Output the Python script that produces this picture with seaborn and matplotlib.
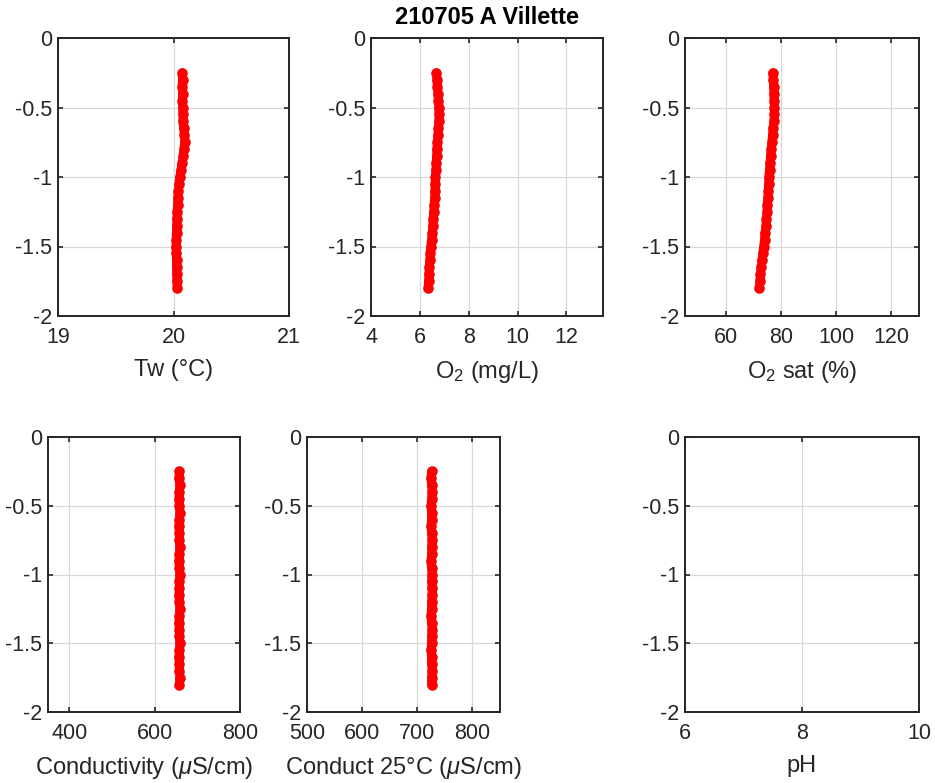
import matplotlib
matplotlib.use("Agg")
import matplotlib.pyplot as plt
import seaborn as sns
import pandas as pd

# depth profile values (m)
depth = [-0.25, -0.30, -0.35, -0.40, -0.45, -0.50, -0.55, -0.60, -0.65, -0.70, -0.75,
         -0.80, -0.85, -0.90, -0.95, -1.00, -1.05, -1.10, -1.15, -1.20, -1.25, -1.30,
         -1.35, -1.40, -1.45, -1.50, -1.55, -1.60, -1.65, -1.70, -1.75, -1.80]

tw = [20.076, 20.078, 20.075, 20.080, 20.077, 20.080, 20.082, 20.083, 20.088, 20.095, 20.098,
      20.090, 20.085, 20.075, 20.065, 20.055, 20.048, 20.042, 20.038, 20.035, 20.032, 20.030,
      20.028, 20.026, 20.024, 20.023, 20.025, 20.026, 20.027, 20.028, 20.030, 20.033]

o2 = [6.68, 6.70, 6.72, 6.74, 6.76, 6.78, 6.79, 6.78, 6.76, 6.74, 6.72,
      6.70, 6.69, 6.67, 6.66, 6.64, 6.63, 6.62, 6.61, 6.59, 6.57, 6.55,
      6.53, 6.51, 6.48, 6.45, 6.43, 6.41, 6.39, 6.37, 6.36, 6.34]

o2_sat = [76.9, 77.1, 77.2, 77.3, 77.4, 77.5, 77.5, 77.3, 77.0, 76.8, 76.6,
          76.3, 76.1, 75.9, 75.7, 75.5, 75.4, 75.3, 75.1, 74.9, 74.8, 74.6,
          74.4, 74.1, 73.9, 73.6, 73.3, 73.0, 72.7, 72.4, 72.2, 72.0]

cond = [658, 657, 659, 658, 657, 658, 659, 658, 657, 658, 658,
        659, 658, 657, 658, 659, 658, 658, 657, 658, 659, 658,
        657, 658, 658, 659, 658, 657, 658, 658, 659, 658]

cond25 = [726, 725, 726, 727, 726, 725, 726, 726, 725, 726, 727,
          726, 726, 725, 726, 727, 726, 727, 727, 726, 726, 725,
          726, 727, 726, 726, 725, 726, 726, 727, 726, 726]

ph = []  # no pH data in this profile

title = "210705 A Villette"

sns.set_style("ticks")
plt.rcParams['font.family'] = ['Liberation Sans', 'DejaVu Sans']
plt.rcParams['mathtext.fontset'] = 'custom'
plt.rcParams['mathtext.rm'] = 'Liberation Sans'
plt.rcParams['mathtext.it'] = 'Liberation Sans:italic'
plt.rcParams['axes.unicode_minus'] = False

DARK = '#262626'
RED = '#ff0000'

fig = plt.figure(figsize=(9.35, 7.83), dpi=100)

W, H = 935, 783

def panel(px0, px1, py0, py1):
    return fig.add_axes([px0 / W, 1 - py1 / H, (px1 - px0) / W, (py1 - py0) / H])

panels = [
    # values, pixel box, xlim, xticks, label
    (tw, (58, 289, 38, 316), (19, 21), [19, 20, 21], 'Tw (°C)'),
    (o2, (371, 603, 38, 316), (4, 13.5), [4, 6, 8, 10, 12], 'O$_2$ (mg/L)'),
    (o2_sat, (685, 919, 38, 316), (45, 130), [60, 80, 100, 120], 'O$_2$ sat (%)'),
    (cond, (48, 240, 437, 712), (350, 800), [400, 600, 800], r'Conductivity ($\mu$S/cm)'),
    (cond25, (307, 500, 437, 712), (500, 850), [500, 600, 700, 800], r'Conduct 25°C ($\mu$S/cm)'),
    (ph, (685, 919, 437, 712), (6, 10), [6, 8, 10], 'pH'),
]

for vals, box, xlim, xticks, label in panels:
    ax = panel(*box)
    if len(vals):
        df = pd.DataFrame({'x': vals, 'depth': depth})
        sns.lineplot(data=df, x='x', y='depth', ax=ax, color=RED, sort=False,
                     linewidth=6.5, solid_capstyle='round', estimator=None, zorder=3)
        sns.scatterplot(data=df, x='x', y='depth', ax=ax, color=RED,
                        s=58, linewidth=0, legend=False, zorder=4)
    ax.set_xlim(*xlim)
    ax.set_ylim(-2, 0)
    ax.set_xticks(xticks)
    ax.set_xticklabels([str(t) for t in xticks])
    ax.set_yticks([0, -0.5, -1, -1.5, -2])
    ax.set_yticklabels(['0', '-0.5', '-1', '-1.5', '-2'])
    ax.grid(True, color='#d8d8d8', linewidth=0.9)
    ax.set_axisbelow(True)
    ax.tick_params(direction='in', length=3.5, width=1.2, color=DARK,
                   labelsize=15.5, labelcolor=DARK, top=True, right=True)
    ax.tick_params(axis='x', pad=8)
    ax.tick_params(axis='y', pad=4)
    for sp in ax.spines.values():
        sp.set_linewidth(1.4)
        sp.set_color(DARK)
    ax.set_xlabel(label, fontsize=17, color=DARK, labelpad=8)
    ax.set_ylabel('')

fig.text(487 / W, 1 - 18 / H, title, ha='center', va='center',
         fontsize=17, fontweight='bold', color='black')

fig.savefig('out.png', dpi=100, facecolor='white')
